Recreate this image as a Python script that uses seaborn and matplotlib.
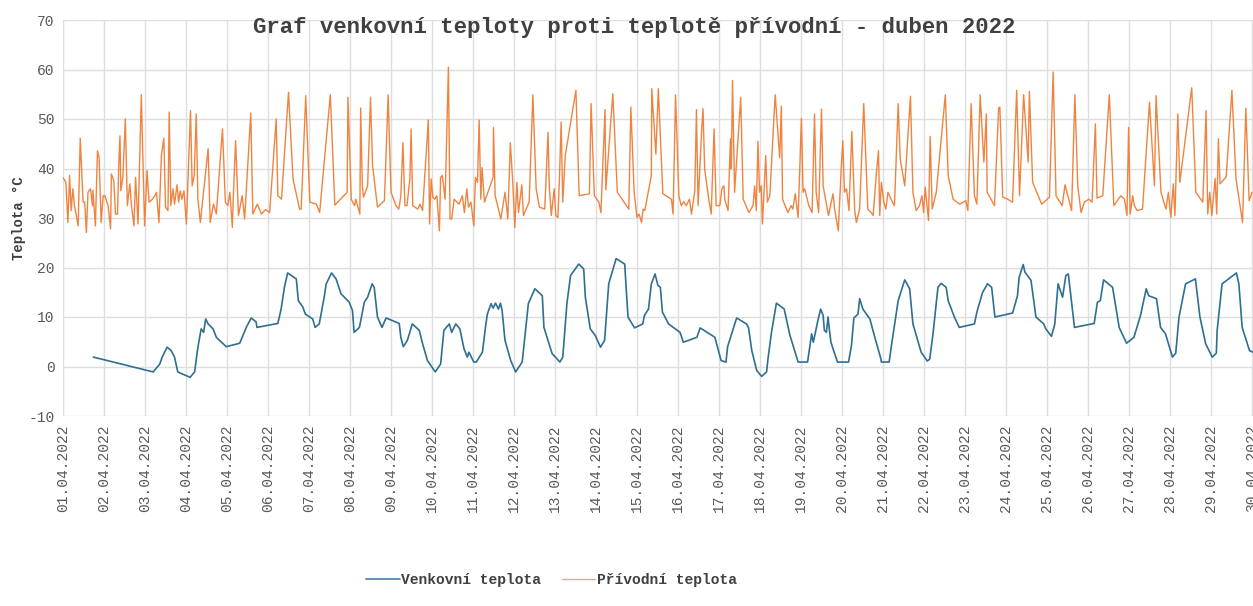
import matplotlib
matplotlib.use("Agg")
import matplotlib.pyplot as plt
import numpy as np
import pandas as pd
import seaborn as sns

# Day offsets from 01.04.2022 00:00 (fractional days) and temperatures in °C
outdoor_day = [0.74, 2.20, 2.36, 2.42, 2.54, 2.64, 2.72, 2.80, 3.10, 3.21, 3.29, 3.37, 3.43, 3.48,
               3.54, 3.66, 3.74, 3.98, 4.31, 4.47, 4.59, 4.71, 4.73, 5.24, 5.32, 5.40, 5.48, 5.69,
               5.74, 5.85, 5.91, 6.09, 6.15, 6.25, 6.37, 6.42, 6.55, 6.66, 6.78, 6.98, 7.06, 7.10,
               7.23, 7.35, 7.43, 7.54, 7.59, 7.67, 7.78, 7.88, 8.20, 8.24, 8.30, 8.40, 8.52, 8.69,
               8.77, 8.89, 9.08, 9.21, 9.29, 9.42, 9.48, 9.58, 9.68, 9.78, 9.86, 9.90, 10.02, 10.08,
               10.23, 10.31, 10.35, 10.44, 10.49, 10.55, 10.62, 10.67, 10.71, 10.78, 10.92, 11.04,
               11.20, 11.35, 11.51, 11.69, 11.73, 11.93, 12.12, 12.19, 12.29, 12.38, 12.58, 12.70,
               12.74, 12.86, 12.98, 13.11, 13.21, 13.31, 13.49, 13.70, 13.78, 13.94, 14.14, 14.18,
               14.28, 14.35, 14.44, 14.51, 14.57, 14.62, 14.77, 15.05, 15.13, 15.46, 15.54, 15.90,
               16.05, 16.17, 16.21, 16.43, 16.67, 16.72, 16.80, 16.92, 17.04, 17.16, 17.20, 17.28,
               17.40, 17.59, 17.73, 17.93, 18.16, 18.26, 18.30, 18.42, 18.48, 18.54, 18.57, 18.62,
               18.66, 18.69, 18.73, 18.78, 18.89, 19.16, 19.23, 19.29, 19.39, 19.43, 19.51, 19.68,
               19.80, 19.95, 19.96, 20.15, 20.20, 20.37, 20.53, 20.65, 20.73, 20.93, 21.08, 21.14,
               21.22, 21.34, 21.42, 21.54, 21.59, 21.74, 21.86, 22.23, 22.29, 22.43, 22.55, 22.65,
               22.73, 23.16, 23.28, 23.32, 23.42, 23.46, 23.61, 23.73, 23.92, 23.97, 24.11, 24.19,
               24.27, 24.38, 24.46, 24.52, 24.67, 25.15, 25.23, 25.30, 25.38, 25.60, 25.76, 25.94,
               26.12, 26.28, 26.42, 26.48, 26.67, 26.77, 26.89, 27.06, 27.14, 27.22, 27.38, 27.62,
               27.73, 27.87, 28.03, 28.13, 28.15, 28.27, 28.62, 28.68, 28.76, 28.94, 29.05]
outdoor_temp = [1.9, -1.1, 0.5, 1.9, 3.9, 3.2, 1.9, -1.1, -2.2, -1.1, 3.9, 7.6, 6.9, 9.6,
                8.6, 7.6, 5.9, 4.0, 4.7, 7.9, 9.8, 9.0, 7.9, 8.7, 11.6, 16.0, 18.9, 17.7,
                13.3, 12.0, 10.6, 9.6, 7.9, 8.6, 14.0, 16.7, 18.9, 17.7, 14.7, 13.0, 11.3, 6.9,
                7.9, 13.0, 14.0, 16.7, 16.0, 10.0, 7.9, 9.8, 8.7, 5.9, 4.0, 5.3, 8.6, 7.3,
                4.6, 1.2, -1.1, 0.5, 7.3, 8.6, 6.9, 8.6, 7.6, 3.6, 1.9, 2.9, 0.9, 0.9,
                2.9, 8.3, 10.6, 12.7, 11.8, 12.8, 11.6, 12.8, 11.3, 5.3, 1.2, -1.1,
                0.9, 12.7, 15.7, 14.3, 7.9, 2.6, 0.9, 1.9, 12.7, 18.4, 20.7, 19.7,
                14.0, 7.6, 6.3, 3.9, 5.3, 16.7, 21.8, 20.7, 10.0, 7.8, 8.6, 10.3,
                11.6, 16.7, 18.7, 16.4, 16.0, 11.0, 8.6, 6.9, 4.9, 5.9, 7.8, 5.9,
                1.2, 0.9, 4.0, 9.8, 8.6, 7.9, 3.2, -0.8, -2.0, -1.1, 1.9, 6.9,
                12.8, 11.6, 6.3, 0.9, 0.9, 6.6, 4.9, 9.6, 11.6, 10.3, 7.3, 6.9,
                10.0, 7.6, 4.9, 3.6, 0.9, 0.9, 4.2, 9.8, 10.6, 13.7, 11.6, 9.6,
                5.9, 1.5, 0.9, 0.9, 3.9, 13.3, 17.5, 15.7, 8.6, 2.9, 1.1, 1.5,
                6.6, 16.0, 16.8, 16.0, 13.3, 10.0, 7.9, 8.6, 11.0, 15.0, 16.7, 16.0,
                10.0, 10.8, 14.3, 18.0, 20.6, 19.1, 17.4, 10.0, 8.6, 7.6, 6.1, 8.6,
                16.7, 14.0, 18.4, 18.7, 7.9, 8.7, 13.0, 13.3, 17.5, 16.0, 7.9, 4.7,
                5.9, 10.3, 15.7, 14.3, 13.7, 7.9, 6.6, 1.9, 2.7, 10.0, 16.7, 17.7,
                10.0, 4.6, 1.9, 2.7, 7.3, 16.7, 18.9, 16.7, 7.9, 3.2, 2.8]

supply_day = [0.00, 0.07, 0.12, 0.16, 0.20, 0.24, 0.28, 0.37, 0.42, 0.49, 0.53, 0.57, 0.61, 0.67,
              0.72, 0.73, 0.79, 0.84, 0.88, 0.93, 0.98, 1.02, 1.10, 1.16, 1.18, 1.24, 1.28, 1.33,
              1.36, 1.39, 1.41, 1.46, 1.52, 1.57, 1.63, 1.67, 1.73, 1.77, 1.83, 1.91, 1.99, 2.05,
              2.10, 2.18, 2.24, 2.28, 2.34, 2.40, 2.46, 2.50, 2.56, 2.59, 2.63, 2.68, 2.72, 2.78,
              2.82, 2.86, 2.90, 2.95, 3.01, 3.11, 3.15, 3.20, 3.25, 3.29, 3.35, 3.54, 3.59, 3.67,
              3.74, 3.89, 3.96, 4.02, 4.07, 4.13, 4.16, 4.21, 4.28, 4.37, 4.43, 4.58, 4.63, 4.74,
              4.84, 4.94, 5.04, 5.20, 5.24, 5.33, 5.50, 5.61, 5.77, 5.81, 5.92, 6.02, 6.18, 6.26,
              6.52, 6.63, 6.93, 6.95, 7.03, 7.11, 7.14, 7.24, 7.26, 7.30, 7.33, 7.43, 7.50, 7.55,
              7.67, 7.84, 7.93, 8.00, 8.12, 8.19, 8.24, 8.29, 8.34, 8.39, 8.46, 8.49, 8.53, 8.65,
              8.71, 8.77, 8.91, 8.94, 8.98, 9.02, 9.07, 9.12, 9.18, 9.21, 9.25, 9.32, 9.40, 9.44,
              9.48, 9.54, 9.66, 9.74, 9.79, 9.85, 9.89, 9.95, 10.02, 10.06, 10.11, 10.15, 10.19,
              10.22, 10.28, 10.49, 10.50, 10.54, 10.68, 10.78, 10.85, 10.91, 10.97, 11.02, 11.07,
              11.11, 11.19, 11.23, 11.37, 11.46, 11.54, 11.62, 11.75, 11.83, 11.86, 11.91, 11.98,
              12.02, 12.07, 12.11, 12.15, 12.19, 12.25, 12.51, 12.59, 12.84, 12.88, 12.96, 13.07,
              13.12, 13.22, 13.24, 13.41, 13.52, 13.80, 13.85, 13.93, 14.00, 14.05, 14.11, 14.15,
              14.19, 14.35, 14.36, 14.46, 14.52, 14.63, 14.84, 14.88, 14.94, 15.02, 15.08, 15.14,
              15.20, 15.28, 15.33, 15.41, 15.45, 15.49, 15.57, 15.61, 15.65, 15.75, 15.81, 15.88,
              15.93, 16.02, 16.07, 16.12, 16.14, 16.22, 16.28, 16.30, 16.33, 16.38, 16.53, 16.59,
              16.73, 16.83, 16.87, 16.91, 16.95, 16.99, 17.03, 17.06, 17.14, 17.18, 17.24, 17.37,
              17.48, 17.52, 17.55, 17.68, 17.76, 17.80, 17.86, 17.93, 18.01, 18.05, 18.09, 18.13,
              18.19, 18.27, 18.33, 18.37, 18.43, 18.50, 18.54, 18.67, 18.78, 18.82, 18.91, 18.98,
              19.02, 19.06, 19.11, 19.17, 19.24, 19.31, 19.35, 19.43, 19.53, 19.63, 19.71, 19.76,
              19.84, 19.89, 19.92, 19.96, 20.02, 20.07, 20.12, 20.23, 20.28, 20.37, 20.42, 20.53,
              20.67, 20.73, 20.81, 20.89, 20.95, 20.99, 21.03, 21.11, 21.15, 21.20, 21.30, 21.52,
              21.59, 21.71, 21.87, 22.02, 22.07, 22.15, 22.23, 22.29, 22.37, 22.46, 22.52, 22.54,
              22.72, 22.82, 22.85, 22.92, 23.04, 23.16, 23.26, 23.33, 23.43, 23.54, 23.57, 23.65,
              23.87, 24.06, 24.15, 24.22, 24.37, 24.44, 24.60, 24.68, 24.75, 24.83, 24.91, 25.02,
              25.10, 25.18, 25.22, 25.36, 25.52, 25.63, 25.80, 25.89, 25.95, 25.99, 26.03, 26.09,
              26.13, 26.20, 26.33, 26.50, 26.62, 26.66, 26.78, 26.90, 26.96, 27.02, 27.08, 27.12,
              27.19, 27.24, 27.53, 27.63, 27.80, 27.88, 27.92, 27.97, 28.02, 28.10, 28.14, 28.18,
              28.22, 28.37, 28.51, 28.61, 28.77, 28.85, 28.93, 29.00]
supply_temp = [38.2, 37.2, 29.1, 38.6, 31.5, 35.9, 32.5, 28.4, 46.1, 33.2, 33.2, 27.1, 35.2, 35.9,
               32.5, 35.6, 28.4, 43.6, 42.2, 29.1, 34.5, 34.5, 32.5, 27.8, 38.9, 37.5, 30.8, 30.8,
               40.9, 46.6, 35.5, 38.2, 50.0, 32.5, 36.9, 32.5, 28.4, 38.2, 28.8, 54.9, 28.4, 39.6,
               33.2, 33.8, 34.5, 35.2, 29.1, 42.6, 46.1, 32.2, 31.5, 51.4, 32.5, 35.9, 32.8, 36.7,
               33.2, 35.5, 33.8, 35.5, 28.8, 51.7, 36.5, 38.6, 51.0, 33.8, 29.1, 44.0, 29.1, 32.8,
               30.8, 48.0, 33.2, 32.5, 35.2, 28.1, 35.5, 45.6, 30.5, 34.5, 29.8, 51.2, 30.8, 32.8,
               30.8, 31.7, 31.1, 50.0, 34.5, 33.8, 55.4, 37.9, 31.8, 31.8, 54.7, 33.2, 32.8, 31.1,
               54.9, 32.6, 35.2, 54.4, 33.8, 32.5, 33.8, 30.8, 52.2, 36.5, 34.2, 36.5, 54.4, 40.6,
               32.2, 33.5, 54.9, 35.2, 32.5, 31.8, 34.5, 45.2, 32.5, 32.5, 37.9, 48.0, 32.5, 31.8,
               32.8, 31.5, 49.8, 28.8, 37.9, 34.2, 33.8, 34.5, 27.4, 38.2, 38.6, 33.8, 60.5, 29.8,
               29.8, 33.8, 32.8, 34.5, 31.1, 35.9, 32.2, 33.2, 28.4, 38.2, 37.2, 49.8, 33.8,
               40.2, 33.2, 38.2, 48.3, 34.5, 29.8, 35.2, 29.8, 45.2, 37.2, 28.1, 37.2,
               31.1, 36.7, 30.5, 33.2, 54.9, 35.9, 32.2, 31.8, 47.3, 36.5, 30.5, 35.9,
               30.5, 30.1, 38.4, 49.4, 33.2, 42.6, 55.8, 34.5, 34.9, 53.1, 34.5, 33.2,
               31.1, 51.9, 35.7, 55.1, 35.2, 31.8, 52.4, 35.2, 30.1, 30.8, 29.1, 31.8,
               31.5, 38.6, 56.1, 42.9, 56.1, 34.9, 33.8, 30.8, 54.9, 34.5, 32.5, 33.3,
               32.5, 33.8, 30.8, 35.5, 51.9, 32.5, 46.6, 52.1, 39.9, 33.8, 30.8, 48.0,
               32.5, 32.5, 35.9, 36.5, 33.8, 31.5, 46.0, 39.9, 57.8, 35.2, 54.4, 33.8,
               31.1, 32.5, 36.5, 31.5, 45.5, 35.2, 36.5, 28.8, 42.6, 33.2, 34.5, 54.9,
               42.2, 52.6, 33.8, 31.1, 32.5, 31.8, 34.9, 30.1, 50.1, 35.2, 35.9, 34.5,
               32.5, 31.1, 51.0, 35.2, 31.1, 52.0, 36.5, 30.5, 34.9, 31.8, 27.4, 39.9,
               45.6, 35.2, 35.9, 31.5, 47.5, 31.5, 29.1, 31.8, 53.1, 31.8, 31.1, 30.5,
               39.2, 43.6, 30.5, 37.2, 33.2, 31.8, 35.2, 33.2, 32.5, 53.1, 41.9, 36.5,
               54.6, 35.2, 31.5, 32.5, 34.5, 31.1, 36.2, 29.5, 46.5, 31.8, 35.2, 54.9,
               38.6, 33.8, 32.8, 33.5, 31.5, 53.1, 34.5, 32.8, 54.9, 41.3, 51.0, 35.2,
               32.5, 52.2, 52.4, 34.2, 33.8, 33.2, 55.8, 34.5, 54.9, 41.3, 55.6, 37.2,
               32.8, 34.2, 59.5, 34.5, 32.5, 36.7, 31.5, 54.9, 36.5, 31.1, 33.2, 33.8,
               33.2, 49.0, 34.0, 34.5, 54.9, 32.5, 34.5, 33.8, 30.5, 48.3, 30.8, 34.5,
               32.5, 31.5, 31.8, 53.4, 36.5, 54.7, 35.2, 31.8, 35.2, 30.1, 36.9, 30.5,
               51.0, 37.2, 56.3, 35.2, 33.2, 51.7, 30.8, 35.2, 30.5, 38.0, 30.8, 46.0,
               36.9, 38.3, 55.8, 37.9, 29.1, 52.2, 33.5, 35.2]

date_labels = [f"{d:02d}.04.2022" for d in range(1, 31)]
y_ticks = list(range(-10, 71, 10))

title_text = "Graf venkovní teploty proti teplotě přívodní - duben 2022"
y_label = "Teplota °C"
outdoor_name = "Venkovní teplota"
supply_name = "Přívodní teplota"

outdoor_color = "#2F6F8F"
supply_color = "#EE7D36"
grid_color = "#DEDEDE"
text_color = "#595959"

sns.set_theme(style="whitegrid")
plt.rcParams["font.family"] = ["Liberation Mono", "DejaVu Sans Mono"]

outdoor_df = pd.DataFrame({"den": outdoor_day, "teplota": outdoor_temp})
supply_df = pd.DataFrame({"den": supply_day, "teplota": supply_temp})

fig = plt.figure(figsize=(12.53, 6.06), dpi=100)
ax = fig.add_axes([63 / 1253, 190 / 606, 1209.5 / 1253, 396 / 606])

sns.lineplot(data=outdoor_df, x="den", y="teplota", ax=ax, color=outdoor_color,
             linewidth=1.2, estimator=None, label=outdoor_name)
sns.lineplot(data=supply_df, x="den", y="teplota", ax=ax, color=supply_color,
             linewidth=1.0, alpha=0.95, estimator=None, label=supply_name)

ax.set_xlim(0, 29.5)
ax.set_ylim(-10, 70)
ax.set_xticks(range(len(date_labels)))
ax.set_xticklabels(date_labels, rotation=90, fontsize=10.5, color=text_color)
ax.set_yticks(y_ticks)
ax.set_yticklabels([str(v) for v in y_ticks], fontsize=10.5, color=text_color)
ax.tick_params(axis="both", length=0, pad=6)
ax.grid(True, color=grid_color, linewidth=1.0)
for spine in ax.spines.values():
    spine.set_visible(False)
ax.set_xlabel("")
ax.set_ylabel(y_label, fontsize=10, fontweight="bold", color="#404040", labelpad=2)

fig.text(0.506, 0.955, title_text, ha="center", va="center", fontsize=16.1,
         fontweight="bold", color="#404040")

leg = ax.legend(loc="center", bbox_to_anchor=(0.44, 0.043), bbox_transform=fig.transFigure,
                ncol=2, frameon=False, fontsize=10.5, handlelength=2.3, handletextpad=0.1,
                columnspacing=1.4)
for txt in leg.get_texts():
    txt.set_color("#404040")
    txt.set_fontweight("bold")
leg.get_lines()[0].set_color("#4A7EB0")
leg.get_lines()[1].set_color("#F4A070")

fig.savefig("out.png", dpi=100)
